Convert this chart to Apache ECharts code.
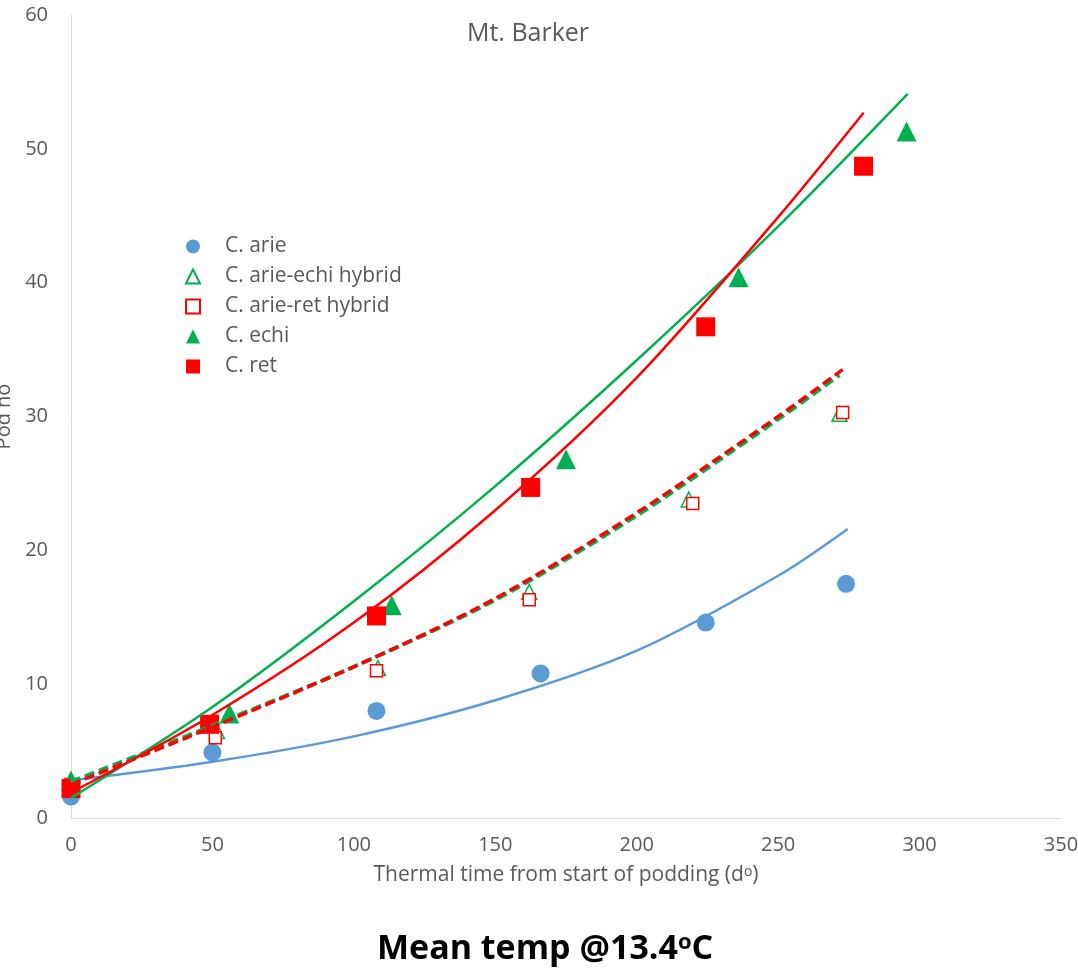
<!DOCTYPE html>
<html>
<head>
<meta charset="utf-8">
<script src="https://cdn.jsdelivr.net/npm/echarts@6/dist/echarts.min.js"></script>
<style>
  html, body { margin: 0; padding: 0; background: #fff; }
  #chart { width: 1078px; height: 973px; }
</style>
</head>
<body>
<div id="chart"></div>
<script>
// observed points [thermal time, pod no]
const arie = [[0, 1.6], [50, 4.9], [108, 8.0], [166, 10.8], [224.4, 14.6], [274, 17.5]];
const arieEchi = [[0, 2.6], [51.6, 6.5], [108.5, 11.2], [162, 16.9], [218.4, 23.8], [271.7, 30.2]];
const arieRet = [[0, 2.5], [51, 6.0], [108, 11.0], [162, 16.3], [219.8, 23.5], [272.8, 30.3]];
const echi = [[0, 2.8], [56, 7.8], [113.4, 15.9], [175, 26.8], [236, 40.4], [295.4, 51.3]];
const ret = [[0, 2.2], [49, 7.0], [108, 15.1], [162.5, 24.7], [224.4, 36.7], [280.2, 48.7]];

// trend lines
const arieTrend = [[0, 2.8], [50, 4.2], [100, 6.1], [150, 8.8], [200, 12.5], [250, 18.1], [274.6, 21.6]];
const arieEchiTrend = [[0, 2.7], [50, 6.9], [100, 11.3], [150, 16.3], [200, 22.6], [250, 29.8], [271.7, 33.1]];
const arieRetTrend = [[0, 2.5], [50, 6.8], [100, 11.3], [150, 16.4], [200, 22.8], [250, 30.0], [272.8, 33.5]];
const echiTrend = [[0, 1.5], [50, 8.3], [100, 16.2], [150, 24.8], [200, 34.2], [250, 44.2], [295.8, 54.1]];
const retTrend = [[0, 1.9], [50, 7.7], [100, 14.6], [150, 23.0], [200, 32.9], [250, 44.9], [280.2, 52.7]];

const xTicks = { min: 0, max: 350, interval: 50 };
const yTicks = { min: 0, max: 60, interval: 10 };

const font = 'Open Sans';
const grey = '#595959';
const blue = '#5b9bd5';
const green = '#00b050';
const red = '#ff0000';

let myChart = echarts.init(document.getElementById('chart'));

function trend(name, data, color, dashed, width) {
  return {
    name: name,
    type: 'line',
    data: data,
    smooth: 0.3,
    symbol: 'none',
    silent: true,
    z: 3,
    lineStyle: {
      color: color,
      width: width,
      type: dashed ? [10, 5] : 'solid'
    }
  };
}

let option = {
  animation: false,
  backgroundColor: '#fff',
  title: {
    text: 'Mt. Barker',
    left: 523,
    top: 16,
    textAlign: 'center',
    textStyle: { fontFamily: font, fontSize: 25, fontWeight: 'normal', color: grey }
  },
  legend: {
    orient: 'vertical',
    left: 180,
    top: 231,
    itemWidth: 14,
    itemHeight: 14,
    itemGap: 9,
    textStyle: { fontFamily: font, fontSize: 21, color: grey, padding: [0, 0, 0, 20] },
    data: ['C. arie', 'C. arie-echi hybrid', 'C. arie-ret hybrid', 'C. echi', 'C. ret']
  },
  grid: {
    left: 71,
    right: 17,
    top: 15,
    bottom: 155,
    containLabel: false,
    outerBoundsMode: 'none'
  },
  xAxis: {
    type: 'value',
    min: xTicks.min,
    max: xTicks.max,
    interval: xTicks.interval,
    name: '{a|Thermal time from start of podding (d}{s|o}{a|)}',
    nameLocation: 'middle',
    nameGap: 47,
    nameTextStyle: {
      rich: {
        a: { fontFamily: font, fontSize: 21, color: grey },
        s: { fontFamily: font, fontSize: 14, color: grey, verticalAlign: 'top', padding: [0, 0, 7, 0] }
      }
    },
    axisLine: { lineStyle: { color: '#d9d9d9', width: 1 } },
    axisTick: { show: false },
    splitLine: { show: false },
    axisLabel: { fontFamily: font, fontSize: 20, color: grey, margin: 17 }
  },
  yAxis: {
    type: 'value',
    min: yTicks.min,
    max: yTicks.max,
    interval: yTicks.interval,
    name: 'Pod no',
    nameLocation: 'middle',
    nameGap: 55,
    nameTextStyle: { fontFamily: font, fontSize: 20, color: grey },
    axisLine: { show: true, lineStyle: { color: '#d9d9d9', width: 1 } },
    axisTick: { show: false },
    splitLine: { show: false },
    axisLabel: { fontFamily: font, fontSize: 20, color: grey, margin: 23 }
  },
  graphic: [{
    type: 'text',
    left: 377,
    top: 932,
    style: {
      text: '{b|Mean temp @13.4}{s|o}{b|C}',
      rich: {
        b: { fontFamily: font, fontSize: 34, fontWeight: 'bold', fill: '#000' },
        s: { fontFamily: font, fontSize: 22, fontWeight: 'bold', fill: '#000', verticalAlign: 'top', padding: [0, 0, 13, 0] }
      }
    }
  }],
  series: [
    {
      name: 'C. arie', type: 'scatter', data: arie, symbol: 'circle', symbolSize: 18, z: 2,
      itemStyle: { color: blue, opacity: 1 }
    },
    {
      name: 'C. arie-echi hybrid', type: 'scatter', data: arieEchi, symbol: 'triangle', symbolSize: 15, z: 2,
      itemStyle: { color: '#fff', borderColor: green, borderWidth: 1.5, opacity: 1 }
    },
    {
      name: 'C. arie-ret hybrid', type: 'scatter', data: arieRet, symbol: 'rect', symbolSize: 12, z: 2,
      itemStyle: { color: '#fff', borderColor: red, borderWidth: 1.5, opacity: 1 }
    },
    {
      name: 'C. echi', type: 'scatter', data: echi, symbol: 'triangle', symbolSize: 20, z: 2,
      itemStyle: { color: green, opacity: 1 }
    },
    {
      name: 'C. ret', type: 'scatter', data: ret, symbol: 'rect', symbolSize: 19, z: 2,
      itemStyle: { color: red, opacity: 1 }
    },
    trend('arie trend', arieTrend, blue, false, 2.5),
    trend('arie-echi trend', arieEchiTrend, green, true, 4),
    trend('arie-ret trend', arieRetTrend, red, true, 3.5),
    trend('echi trend', echiTrend, green, false, 2.5),
    trend('ret trend', retTrend, red, false, 2.5)
  ]
};

myChart.setOption(option);
window.addEventListener('resize', function () {
  myChart.resize();
});
</script>
</body>
</html>
